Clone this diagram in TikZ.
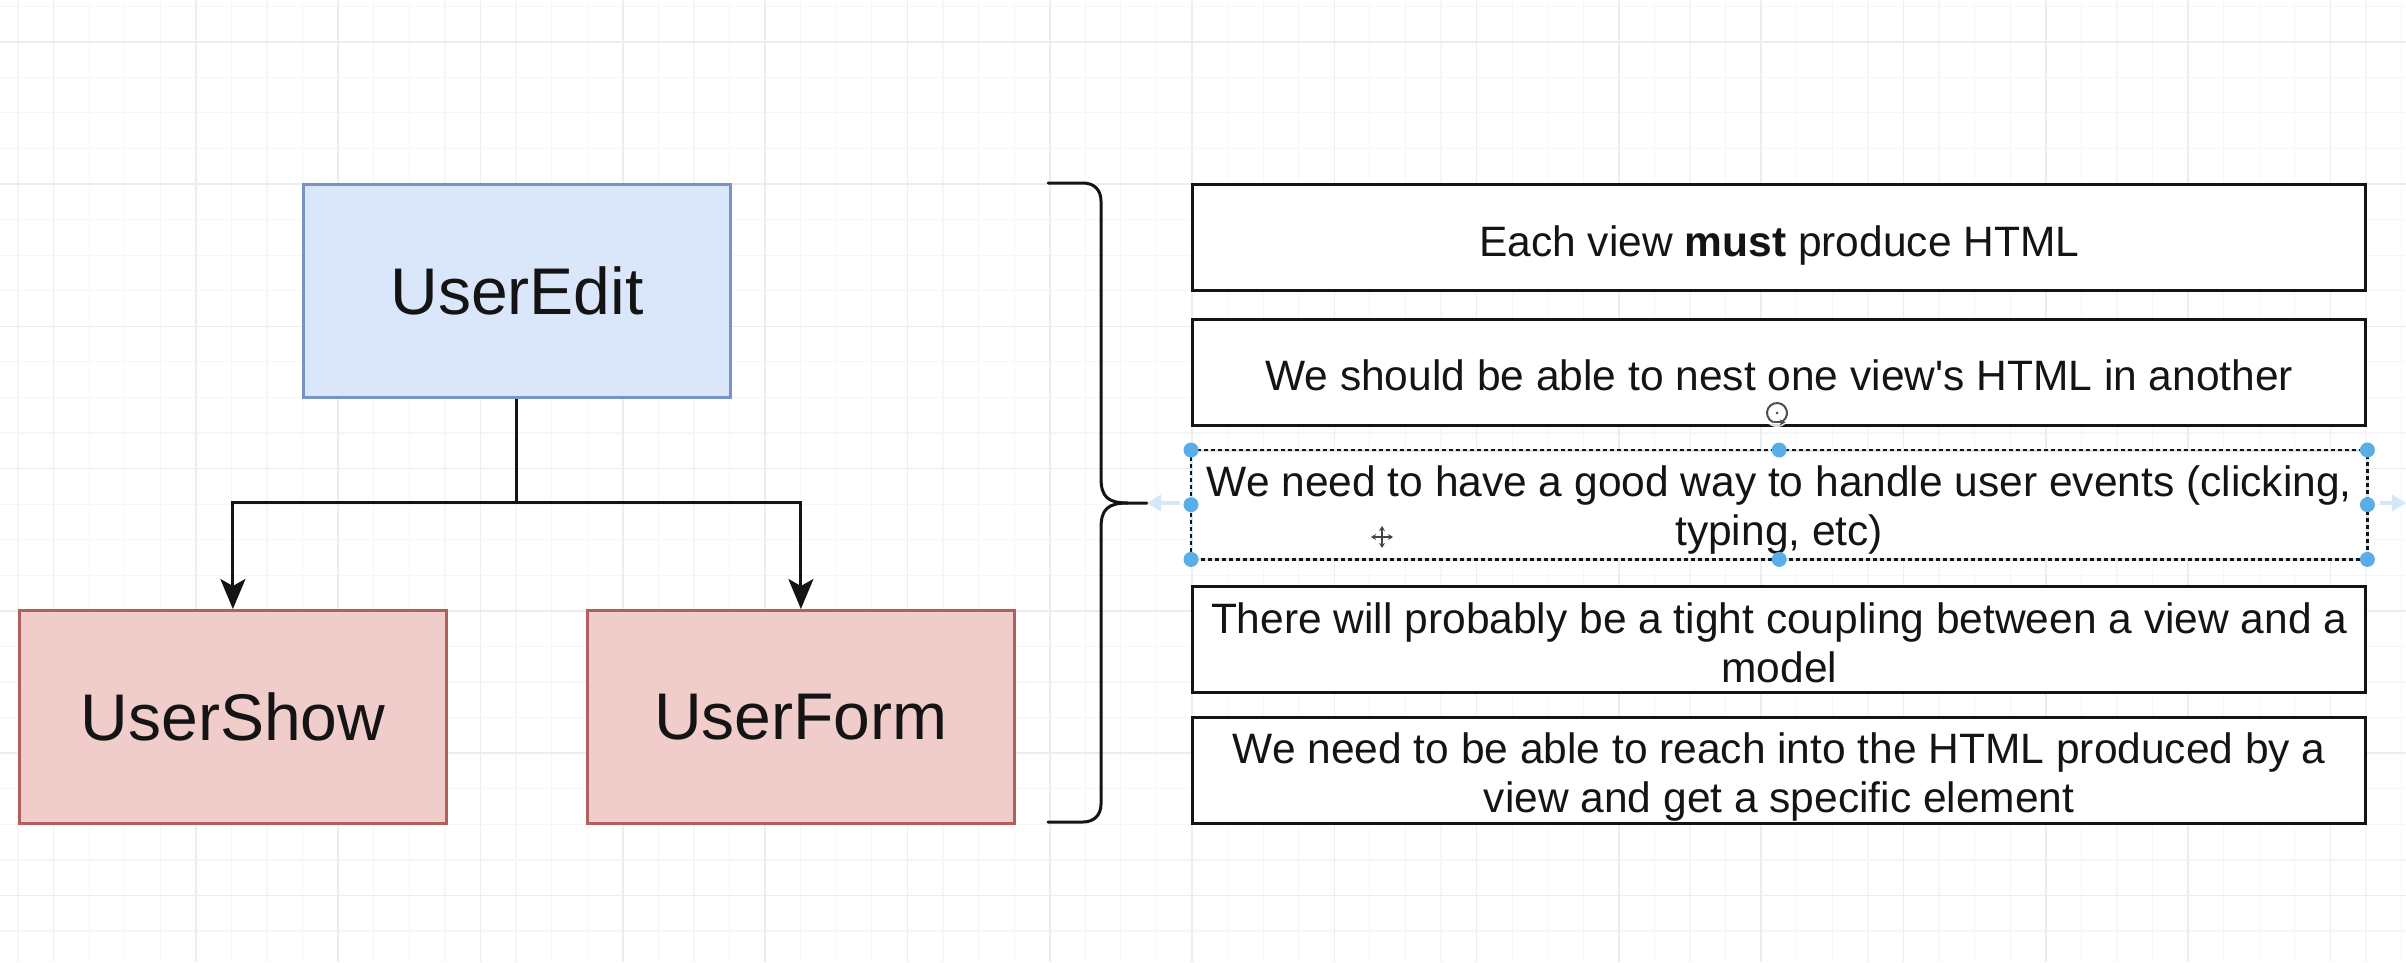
\documentclass[tikz,border=0pt]{standalone}
\usepackage{fontspec}
\setmainfont{Liberation Sans}
\usetikzlibrary{arrows.meta}
\definecolor{gridminor}{RGB}{246,246,246}
\definecolor{gridmajor}{RGB}{237,237,237}
\definecolor{bluefill}{RGB}{218,231,250}
\definecolor{blueline}{RGB}{120,148,196}
\definecolor{redfill}{RGB}{240,205,203}
\definecolor{redline}{RGB}{178,96,92}
\definecolor{ink}{RGB}{20,20,20}
\definecolor{handle}{RGB}{90,174,232}
\definecolor{hint}{RGB}{212,232,248}
\tikzset{
  leftbox/.style={draw, line width=2.8pt, inner sep=0pt, anchor=north west,
    minimum width=427pt, minimum height=213pt, text=ink,
    font=\fontsize{66}{76}\selectfont},
  bluebox/.style={leftbox, fill=bluefill, draw=blueline},
  redbox/.style={leftbox, fill=redfill, draw=redline},
  rightbox/.style={draw=ink, line width=3.4pt, fill=white, inner sep=0pt, anchor=north west,
    minimum width=1173pt, minimum height=106pt},
  selbox/.style={rightbox, draw=none},
  rtext/.style={inner sep=0pt, text=ink, align=center, font=\fontsize{42.5}{49}\selectfont},
  conn/.style={draw=ink, line width=3pt},
  tip/.style={-{Stealth[length=30pt,width=25pt,inset=7pt]}},
  handledot/.style={fill=handle, draw=none},
}
\begin{document}
\begin{tikzpicture}[x=1pt,y=-1pt]
\useasboundingbox (0,0) rectangle (2406,962);
\fill[white] (0,0) rectangle (2406,962);
% grid
\foreach \i in {0,...,67} {\draw[gridminor, line width=1.2pt] (18+35.575*\i,0) -- (18+35.575*\i,962);}
\foreach \i in {0,...,26} {\draw[gridminor, line width=1.2pt] (0,6.1+35.575*\i) -- (2406,6.1+35.575*\i);}
\foreach \i in {0,...,16} {\draw[gridmajor, line width=1.6pt] (53.6+142.3*\i,0) -- (53.6+142.3*\i,962);}
\foreach \i in {0,...,6} {\draw[gridmajor, line width=1.6pt] (0,41.7+142.3*\i) -- (2406,41.7+142.3*\i);}

% left tree
\node[bluebox] (ue) at (302,183) {UserEdit};
\node[redbox] (us) at (18,609) {UserShow};
\node[redbox] (uf) at (586,609) {UserForm};
\coordinate (j) at (ue.south |- 0,502.7);
\draw[conn] (ue.south) -- (j);
\draw[conn, tip] (j) -| (us.north);
\draw[conn, tip] (j) -| (uf.north);

% brace
\coordinate (bt) at (1048,183);
\coordinate (bb) at (1048,822);
\coordinate (btip) at (1147,503);
\draw[ink, line width=3pt, line cap=round]
  (bt) -- (1083,183) .. controls (1094,183) and (1101,190) .. (1101,201)
  -- (1101,478) .. controls (1101,497) and (1108,503) .. (1128,503) -- (btip);
\draw[ink, line width=3pt, line cap=round]
  (bb) -- (1083,822) .. controls (1094,822) and (1101,815) .. (1101,804)
  -- (1101,528) .. controls (1101,509) and (1108,503) .. (1128,503);

% right boxes
\node[rightbox] (r1) at (1191,183) {};
\node[rightbox] (r2) at (1191,318) {};
\node[selbox] (r3) at (1191,450) {};
\node[rightbox] (r4) at (1191,585) {};
\node[rightbox] (r5) at (1191,716) {};
\node[rtext] (t1) at ([yshift=-8pt]r1.center) {Each view \textbf{must} produce HTML};
\node[rtext] (t2) at ([yshift=-3pt]r2.center) {We should be able to nest one view\textquotesingle s HTML in another};
\node[rtext] (t3) at ([yshift=-5pt]r3.center) {We need to have a good way to handle user events (clicking,\\typing, etc)};
\node[rtext] (t4) at ([yshift=-3pt]r4.center) {There will probably be a tight coupling between a view and a\\model};
\node[rtext] (t5) at ([yshift=-6pt]r5.center) {We need to be able to reach into the HTML produced by a\\view and get a specific element};

% selection of box 3
\draw[hint, line width=3pt] (r3.north west) rectangle (r3.south east);
\draw[ink, line width=2.4pt, dash pattern=on 4pt off 3pt] (r3.north west) rectangle (r3.south east);
% connection hints
\coordinate (hl) at (1180,503);
\coordinate (hr0) at (2380,503);
\coordinate (hr1) at (2406,503);
\draw[hint, line width=4pt, -{Triangle[length=14pt,width=16pt]}] (hl) -- (btip);
\draw[hint, line width=4pt, -{Triangle[length=14pt,width=16pt]}] (hr0) -- (hr1);
\foreach \a in {north west, north, north east, west, east, south west, south, south east}
  {\fill[handledot] (r3.\a) circle[radius=7.5pt];}

% rotate icon
\coordinate (rot) at (1777,413);
\fill[white, opacity=0.85] (rot) circle[radius=14pt];
\draw[ink!75, line width=2pt] (rot) ++(75:10) arc[start angle=75, end angle=-250, radius=10];
\draw[ink!75, line width=2pt, -{Stealth[length=6pt,width=6pt]}] (rot) ++(110:10) -- ++(12,0);
\fill[ink!75] (rot) circle[radius=1.5pt];

% move cursor
\coordinate (mv) at (1382,537);
\fill[white, opacity=0.8] (mv) circle[radius=13pt];
\draw[ink!80, line width=2pt, {Stealth[length=5pt,width=6pt]}-{Stealth[length=5pt,width=6pt]}] ([xshift=-11pt]mv) -- ([xshift=11pt]mv);
\draw[ink!80, line width=2pt, {Stealth[length=5pt,width=6pt]}-{Stealth[length=5pt,width=6pt]}] ([yshift=11pt]mv) -- ([yshift=-11pt]mv);
\end{tikzpicture}
\end{document}
